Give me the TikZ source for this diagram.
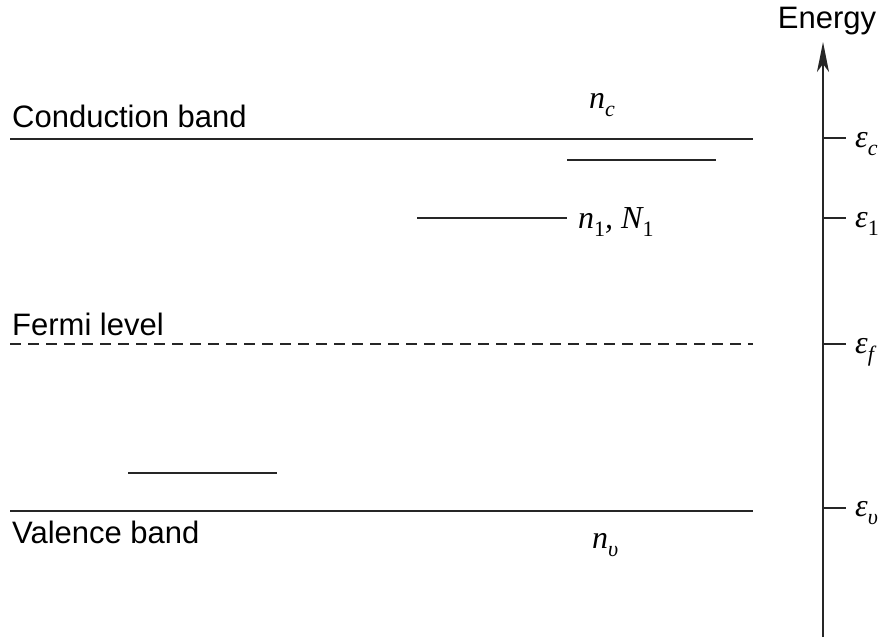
\documentclass[tikz,border=0pt]{standalone}
\usepackage{fontspec}
\setmainfont{Liberation Sans}
\newfontfamily\tms{Liberation Serif}
\usetikzlibrary{arrows.meta}
\newcommand\sbs[1]{\raisebox{-0.26em}{\fontsize{22}{22}\selectfont #1}}
\begin{document}
\begin{tikzpicture}[x=1pt,y=-1pt,
  lvl/.style={line width=1.4pt, draw=black!85},
  tickln/.style={line width=1.4pt, draw=black!85},
  lbl/.style={inner sep=0pt, anchor=base west, font=\fontsize{31}{36}\selectfont},
  sym/.style={inner sep=0pt, anchor=base west, font=\tms\fontsize{32}{36}\selectfont\itshape}]
\useasboundingbox (0,0) rectangle (885,637);
% bands and levels
\draw[lvl] (10,139) -- (753,139);
\draw[lvl] (567,160) -- (716,160);
\draw[lvl] (417,218) -- (567,218);
\draw[lvl, dash pattern=on 11pt off 7pt] (10,344) -- (753,344);
\draw[lvl] (128,473) -- (277,473);
\draw[lvl] (10,511) -- (753,511);
% texts
\node[lbl] (cb) at (12,127) {Conduction band};
\node[lbl] (fl) at (12,335) {Fermi level};
\node[lbl] (vb) at (12,543) {Valence band};
\node[sym] (nc) at (589,108) {n\sbs{c}};
\node[sym] (n1) at (578,228) {n\sbs{\upshape 1}, N\sbs{\upshape 1}};
\node[sym] (nv) at (592,548) {n\sbs{υ}};
% energy axis
\coordinate (ab) at (823,637);
\coordinate (at) at (823,42);
\draw[line width=1.6pt, draw=black!85, -{Stealth[length=30pt,width=12pt,inset=8pt]}] (ab) -- (at);
\node[lbl, anchor=base] (en) at (827,28) {Energy};
\draw[tickln] (823,138) -- (846,138);
\draw[tickln] (823,218) -- (846,218);
\draw[tickln] (823,344) -- (846,344);
\draw[tickln] (823,508) -- (846,508);
\node[sym] (ec) at (855,147) {ε\sbs{c}};
\node[sym] (e1) at (855,227) {ε\sbs{\upshape 1}};
\node[sym] (ef) at (855,353) {ε\sbs{f}};
\node[sym] (ev) at (855,516) {ε\sbs{υ}};
\end{tikzpicture}
\end{document}
